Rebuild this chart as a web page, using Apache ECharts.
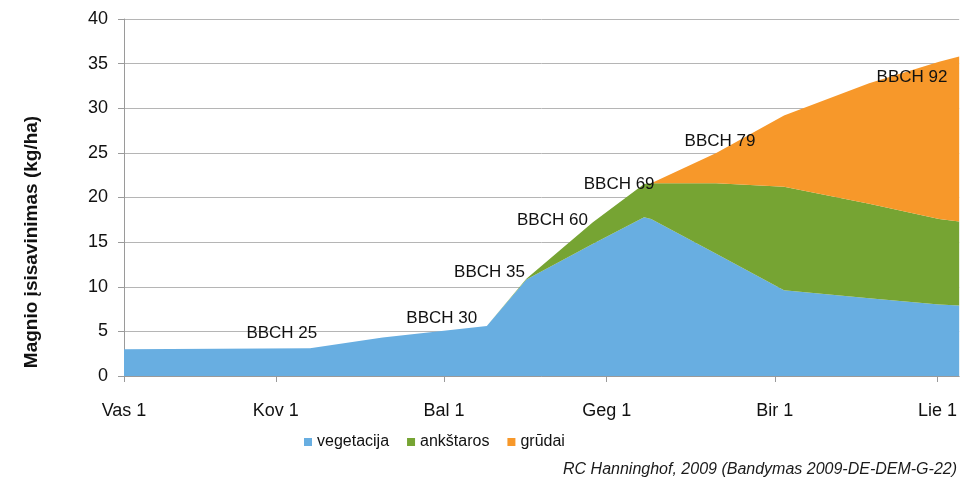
<!DOCTYPE html>
<html>
<head>
<meta charset="utf-8">
<script src="https://cdn.jsdelivr.net/npm/echarts@6/dist/echarts.min.js"></script>
<style>
  html, body { margin: 0; padding: 0; background: #fff; }
  #chart { width: 960px; height: 481px; }
</style>
</head>
<body>
<div id="chart"></div>
<script>
// days counted from Feb 1
const days = [0, 34.3, 47.7, 66.9, 74.2, 86.4, 95.9, 97.2, 109.2, 121.7, 137.4, 150.3, 154];
const vegetacija = [3.0, 3.1, 4.3, 5.6, 10.8, 14.8, 17.8, 17.6, 13.7, 9.6, 8.7, 8.0, 7.9];
const ankstaros = [0, 0, 0, 0, 0.1, 2.4, 3.7, 4.0, 7.9, 11.6, 10.6, 9.6, 9.4];
const grudai = [0, 0, 0, 0, 0, 0, 0, 0, 3.4, 8.0, 13.5, 17.6, 18.5];

const monthTicks = [0, 28, 59, 89, 120, 150];
const monthLabels = ['Vas 1', 'Kov 1', 'Bal 1', 'Geg 1', 'Bir 1', 'Lie 1'];

const bbchNames = ['BBCH 25', 'BBCH 30', 'BBCH 35', 'BBCH 60', 'BBCH 69', 'BBCH 79', 'BBCH 92'];
const bbchDays = [29.1, 58.6, 67.4, 79.0, 91.3, 109.9, 145.3];
const bbchValues = [4.8, 6.5, 11.65, 17.4, 21.5, 26.3, 33.5];

const colors = ['#68aee1', '#76a433', '#f7982a'];
const font = 'Liberation Sans, Arial, sans-serif';

function areaSeries(name, vals) {
  // value first so the stack is done on y, not on the day
  return {
    type: 'line',
    name: name,
    stack: 'total',
    symbol: 'none',
    lineStyle: { width: 0 },
    areaStyle: { opacity: 1 },
    encode: { x: 1, y: 0 },
    data: days.map((d, i) => [vals[i], d])
  };
}

const chart = echarts.init(document.getElementById('chart'));
chart.setOption({
  animation: false,
  color: colors,
  grid: { left: 124, right: 0, top: 19, bottom: 105 },
  legend: {
    data: ['vegetacija', 'ankštaros', 'grūdai'],
    left: 299,
    top: 429,
    itemWidth: 8,
    itemHeight: 8,
    itemGap: 18,
    icon: 'rect',
    textStyle: { fontFamily: font, fontSize: 16, color: '#111' }
  },
  title: {
    text: 'RC Hanninghof, 2009 (Bandymas 2009-DE-DEM-G-22)',
    right: 3,
    top: 462,
    padding: 0,
    textStyle: { fontFamily: font, fontSize: 16, fontStyle: 'italic', fontWeight: 'normal', color: '#1a1a1a' }
  },
  graphic: [{
    type: 'text',
    x: 32,
    y: 242,
    rotation: Math.PI / 2,
    style: {
      text: 'Magnio įsisavinimas (kg/ha)',
      font: 'bold 19px ' + font,
      fill: '#111',
      align: 'center',
      verticalAlign: 'middle'
    }
  }],
  xAxis: {
    type: 'value',
    min: 0,
    max: 154,
    splitLine: { show: false },
    axisLine: { lineStyle: { color: '#9a9a9a' } },
    axisTick: { show: true, length: 6, customValues: monthTicks, lineStyle: { color: '#9a9a9a' } },
    axisLabel: {
      customValues: monthTicks,
      margin: 26,
      fontFamily: font,
      fontSize: 18,
      color: '#111',
      formatter: v => monthLabels[monthTicks.indexOf(v)]
    }
  },
  yAxis: {
    type: 'value',
    min: 0,
    max: 40,
    interval: 5,
    axisLine: { show: true, lineStyle: { color: '#9a9a9a' } },
    axisTick: { show: true, length: 6, lineStyle: { color: '#9a9a9a' } },
    splitLine: { lineStyle: { color: '#b5b5b5' } },
    axisLabel: { margin: 16, fontFamily: font, fontSize: 18, color: '#111' }
  },
  series: [
    areaSeries('vegetacija', vegetacija),
    areaSeries('ankštaros', ankstaros),
    areaSeries('grūdai', grudai),
    {
      type: 'scatter',
      name: 'BBCH',
      symbolSize: 0,
      z: 10,
      silent: true,
      itemStyle: { opacity: 1 },
      data: bbchNames.map((n, i) => ({ name: n, value: [bbchDays[i], bbchValues[i]] })),
      label: {
        show: true,
        position: 'inside',
        formatter: p => p.name,
        fontFamily: font,
        fontSize: 17,
        color: '#111',
        opacity: 1
      }
    }
  ]
});
</script>
</body>
</html>
